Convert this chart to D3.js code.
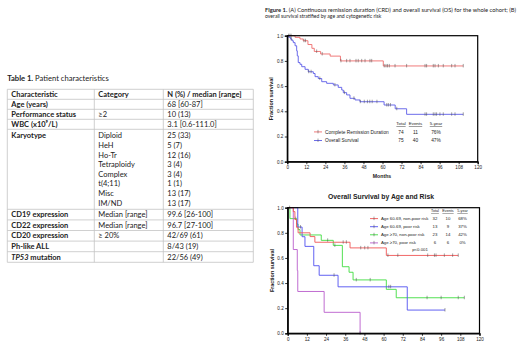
<!DOCTYPE html>
<html>
<head>
<meta charset="UTF-8">
<title>Table 1 and Figure 1</title>
<script src="https://d3js.org/d3.v7.min.js"></script>
<style>
  body { margin: 0; background: #fff; }
  .tbl text { font-family: Lato, "Open Sans", sans-serif; fill: #222; }
  .km text { font-family: "Liberation Sans", Arial, sans-serif; fill: #222; }
</style>
</head>
<body>
<svg id="fig" width="520" height="350"></svg>
<script>
// ---- table data ----
const tableHead = ["Characteristic", "Category", "N (%) / median [range]"];
const rowLabels = ["Age (years)", "Performance status", "WBC (x10⁹/L)", "Karyotype",
  "CD19 expression", "CD22 expression", "CD20 expression", "Ph-like ALL", "TP53 mutation"];
const rowCats = [[""], ["≥2"], [""],
  ["Diploid", "HeH", "Ho-Tr", "Tetraploidy", "Complex", "t(4;11)", "Misc", "IM/ND"],
  ["Median [range]"], ["Median [range]"], ["≥ 20%"], [""], [""]];
const rowVals = [["68 [60-87]"], ["10 (13)"], ["3.1 [0.6-111.0]"],
  ["25 (33)", "5 (7)", "12 (16)", "3 (4)", "3 (4)", "1 (1)", "13 (17)", "13 (17)"],
  ["99.6 [26-100]"], ["96.7 [27-100]"], ["42/69 (61)"], ["8/43 (19)"], ["22/56 (49)"]];

// ---- figure A: CRD and OS (months, survival) ----
const crdT = [0, 4.9, 8, 10, 13, 15.5, 17, 21, 27, 33.5, 60.5];
const crdS = [1, 0.987, 0.974, 0.96, 0.93, 0.90, 0.875, 0.855, 0.838, 0.80, 0.76];
const crdCens = [0.8, 1.6, 2.4, 10.5, 11.5, 18.5, 22, 33.8, 37.4, 39.5, 43.3, 44.7, 46.9, 49,
  52.1, 53.2, 61.1, 62.2, 63.2, 64.3, 67.9, 75.2, 86.8, 87.8, 92, 93.1, 95.2, 98.3, 103.6, 105.7, 110.9];
const osT = [0, 1, 2.1, 3, 3.8, 4.9, 5.9, 6.3, 6.9, 8, 9.1, 11.2, 13.2, 16.4, 17.5, 19.5, 21.7,
  24.8, 29, 32.1, 34.3, 35.3, 37.4, 39.5, 42.7, 45.8, 61, 68, 75.2];
const osS = [1, 0.987, 0.973, 0.96, 0.945, 0.92, 0.88, 0.84, 0.787, 0.773, 0.754, 0.733, 0.714,
  0.70, 0.675, 0.66, 0.635, 0.622, 0.609, 0.59, 0.569, 0.548, 0.53, 0.503, 0.49, 0.476, 0.45, 0.42, 0.376];
const osCens = [2.5, 13.5, 15, 20.5, 30, 36, 42, 46, 48.5, 50.5, 52, 53.5, 56.5, 62.7, 63.7, 65, 69,
  86.8, 87.8, 92, 93.1, 94.1, 96.2, 98.3, 103.6, 105.7, 110.9];
const legA = [["Complete Remission Duration", "74", "11", "76%"], ["Overall Survival", "75", "40", "47%"]];

// ---- figure B: OS by age and risk ----
const g1T = [0, 3.5, 4.5, 5.5, 6.5, 14, 17, 39, 61.7];
const g1S = [1, 0.969, 0.906, 0.844, 0.80, 0.77, 0.725, 0.68, 0.62];
const g1Cens = [34.7, 36.7, 45.7, 48.2, 50.2, 62.7, 68.9, 87.6, 91.8, 92.8, 98, 103.2, 106.7];
const g2T = [0, 6.3, 9, 10.8, 16.3, 19.7, 31.5, 74.8];
const g2S = [1, 0.846, 0.769, 0.692, 0.538, 0.462, 0.37, 0.185];
const g2Cens = [8, 29, 63.3, 64.4, 98.4];
const g3T = [0, 1.4, 5.6, 6.5, 7.7, 21, 28.5, 34.2, 38.4, 40.9, 61.7, 67.9];
const g3S = [1, 0.913, 0.87, 0.826, 0.783, 0.74, 0.70, 0.53, 0.486, 0.425, 0.35, 0.283];
const g3Cens = [5, 25, 29.5, 42.9, 51.6, 87.2, 96, 106.7, 110.5];
const g4T = [0, 3.5, 6, 6.3, 22.8, 45.3];
const g4S = [1, 0.667, 0.5, 0.333, 0.167, 0];
const g4Cens = [1.2, 45.3];
const legB = [["Age 60-69, non-poor risk", "32", "10", "68%"], ["Age 60-69, poor risk", "13", "9", "37%"],
  ["Age ≥70, non-poor risk", "23", "14", "42%"], ["Age ≥70, poor risk", "6", "6", "0%"]];

const yTicks = [0, 0.2, 0.4, 0.6, 0.8, 1.0];
const xTicks = d3.range(0, 121, 12);

const svg = d3.select("#fig");
svg.append("rect").attr("width", 520).attr("height", 350).attr("fill", "#fff");

// ================= TABLE =================
const tbl = svg.append("g").attr("class", "tbl");
const colX = [7.3, 94.3, 163.3, 253.3];
const fs = 7.5;

tbl.append("text").attr("x", 7.3).attr("y", 80.5).attr("font-size", 7.6)
  .call(t => { t.append("tspan").attr("font-weight", "bold").text("Table 1."); t.append("tspan").text(" Patient characteristics"); });

// row heights
const heights = [10].concat(rowLabels.map((d, i) => i < 3 ? 10 : rowCats[i].length > 1 ? 80 : 10.6));
const tops = [89.3];
heights.forEach((h, i) => tops.push(tops[i] + h));

tbl.selectAll("line.h").data(tops).join("line")
  .attr("x1", colX[0]).attr("x2", colX[3]).attr("y1", d => d).attr("y2", d => d)
  .attr("stroke", "#c4c4c4").attr("stroke-width", 0.8);
tbl.selectAll("line.v").data(colX).join("line").attr("class", "v")
  .attr("x1", d => d).attr("x2", d => d).attr("y1", tops[0]).attr("y2", tops[tops.length - 1])
  .attr("stroke", "#c4c4c4").attr("stroke-width", 0.8);

tableHead.forEach((h, j) => {
  tbl.append("text").attr("x", colX[j] + 4).attr("y", tops[0] + 7.6)
    .attr("font-size", fs).attr("font-weight", "bold").text(h);
});

rowLabels.forEach((lab, i) => {
  const top = tops[i + 1];
  const multi = rowCats[i].length > 1;
  const step = 9.6, off = multi ? 9 : 7.9;
  const lt = tbl.append("text").attr("x", colX[0] + 4).attr("y", top + off)
    .attr("font-size", fs).attr("font-weight", "bold");
  if (lab.startsWith("TP53")) {
    lt.append("tspan").attr("font-style", "italic").text("TP53");
    lt.append("tspan").text(lab.slice(4));
  } else lt.text(lab);
  rowCats[i].forEach((c, k) => {
    tbl.append("text").attr("x", colX[1] + 4).attr("y", top + off + k * step)
      .attr("font-size", fs).attr("fill", "#333").text(c);
  });
  rowVals[i].forEach((v, k) => {
    tbl.append("text").attr("x", colX[2] + 4).attr("y", top + off + k * step)
      .attr("font-size", fs).attr("fill", "#333").text(v);
  });
});

// ================= FIGURE CAPTION =================
const cap = svg.append("g").attr("class", "tbl");
cap.append("text").attr("x", 265).attr("y", 11.5).attr("font-size", 5.1)
  .attr("textLength", 251).attr("lengthAdjust", "spacingAndGlyphs")
  .call(t => {
    t.append("tspan").attr("font-weight", "bold").text("Figure 1.");
    t.append("tspan").text(" (A) Continuous remission duration (CRD) and overall survival (OS) for the whole cohort; (B)");
  });
cap.append("text").attr("x", 265).attr("y", 18.3).attr("font-size", 5.1)
  .text("overall survival stratified by age and cytogenetic risk");

// ================= KM helper =================
function survAt(t, s, time) {
  let v = 1;
  t.forEach((d, i) => { if (d <= time) v = s[i]; });
  return v;
}

function kmPlot(box, curves) {
  const g = svg.append("g").attr("class", "km");
  const x = d3.scaleLinear().domain([0, 120]).range([box.x0, box.x1]);
  const y = d3.scaleLinear().domain([0, 1]).range([box.y0, box.y1]);

  curves.forEach(c => {
    const end = d3.max(c.cens.concat(c.t));
    const pts = c.t.map((d, i) => [d, c.s[i]]);
    pts.push([end, c.s[c.s.length - 1]]);
    g.append("path").datum(pts)
      .attr("d", d3.line().x(d => x(d[0])).y(d => y(d[1])).curve(d3.curveStepAfter))
      .attr("fill", "none").attr("stroke", c.color).attr("stroke-width", 0.9);
    g.selectAll(null).data(c.cens).join("line")
      .attr("x1", d => x(d)).attr("x2", d => x(d))
      .attr("y1", d => y(survAt(c.t, c.s, d)) - 2).attr("y2", d => y(survAt(c.t, c.s, d)) + 1.5)
      .attr("stroke", "#444").attr("stroke-width", 0.5);
  });

  // frame
  g.append("rect").attr("x", x(0)).attr("y", y(1)).attr("width", x(120) - x(0)).attr("height", y(0) - y(1))
    .attr("fill", "none").attr("stroke", "#000").attr("stroke-width", 1.2);

  const ya = g.append("g").attr("transform", `translate(${x(0)},0)`)
    .call(d3.axisLeft(y).tickValues(yTicks).tickFormat(d3.format(".1f")).tickSize(2.5).tickPadding(1.5));
  const xa = g.append("g").attr("transform", `translate(0,${y(0)})`)
    .call(d3.axisBottom(x).tickValues(xTicks).tickSize(2.5).tickPadding(1.5));
  [ya, xa].forEach(a => {
    a.select(".domain").attr("stroke", "#000").attr("stroke-width", 1.2);
    a.selectAll(".tick line").attr("stroke", "#000").attr("stroke-width", 0.8);
    a.selectAll("text").attr("font-size", 4.6).attr("font-family", "Liberation Sans, Arial, sans-serif").attr("fill", "#222");
  });

  g.append("text").attr("transform", `translate(${box.x0 - 14},${(box.y0 + box.y1) / 2}) rotate(-90)`)
    .attr("text-anchor", "middle").attr("font-size", 5.4).attr("font-weight", "bold").text("Fraction survival");
  return { g, x, y };
}

function legend(g, rows, colors, o) {
  const hdr = ["Total", "Events", "5-year"];
  hdr.forEach((h, j) => {
    g.append("text").attr("x", o.cols[j]).attr("y", o.y0).attr("font-size", o.hfs)
      .attr("text-anchor", "middle").attr("text-decoration", "underline").text(h);
  });
  rows.forEach((r, i) => {
    const yy = o.y0 + o.dy * (i + 1);
    g.append("line").attr("x1", o.sx).attr("x2", o.sx + o.sw).attr("y1", yy - o.fs * 0.35).attr("y2", yy - o.fs * 0.35)
      .attr("stroke", colors[i]).attr("stroke-width", 0.9);
    g.append("line").attr("x1", o.sx + o.sw / 2).attr("x2", o.sx + o.sw / 2)
      .attr("y1", yy - o.fs * 0.35 - 2).attr("y2", yy - o.fs * 0.35 + 1.5)
      .attr("stroke", "#444").attr("stroke-width", 0.5);
    g.append("text").attr("x", o.tx).attr("y", yy).attr("font-size", o.fs).text(r[0]);
    r.slice(1).forEach((v, j) => {
      g.append("text").attr("x", o.cols[j]).attr("y", yy).attr("font-size", o.fs)
        .attr("text-anchor", "middle").text(v);
    });
  });
}

// ---- plot A ----
const colA = ["#ee6b6b", "#5b5be8"];
const A = kmPlot({ x0: 287.3, x1: 477.7, y0: 161.7, y1: 35.7 }, [
  { t: crdT, s: crdS, cens: crdCens, color: colA[0] },
  { t: osT, s: osS, cens: osCens, color: colA[1] }
]);
A.g.append("text").attr("x", 382).attr("y", 177.5).attr("text-anchor", "middle")
  .attr("font-size", 5.2).attr("font-weight", "bold").text("Months");
legend(A.g, legA, colA, { y0: 125, dy: 8.6, fs: 4.8, hfs: 4.4, sx: 314, sw: 8, tx: 325, cols: [401, 415.5, 436] });

// ---- plot B ----
const colB = ["#f05656", "#5050f0", "#3fdc3f", "#b95ccc"];
const B = kmPlot({ x0: 287.7, x1: 479.5, y0: 333.3, y1: 207.7 }, [
  { t: g3T, s: g3S, cens: g3Cens, color: colB[2] },
  { t: g2T, s: g2S, cens: g2Cens, color: colB[1] },
  { t: g4T, s: g4S, cens: g4Cens, color: colB[3] },
  { t: g1T, s: g1S, cens: g1Cens, color: colB[0] }
]);
B.g.append("text").attr("x", 381).attr("y", 199).attr("text-anchor", "middle")
  .attr("font-size", 6.8).attr("font-weight", "bold").text("Overall Survival by Age and Risk");
legend(B.g, legB, colB, { y0: 212, dy: 8.1, fs: 4.3, hfs: 3.7, sx: 370, sw: 8, tx: 381, cols: [435, 448, 462.5] });
B.g.append("text").attr("x", 420).attr("y", 250.5).attr("text-anchor", "middle")
  .attr("font-size", 4.3).text("p<0.001");
</script>
</body>
</html>
